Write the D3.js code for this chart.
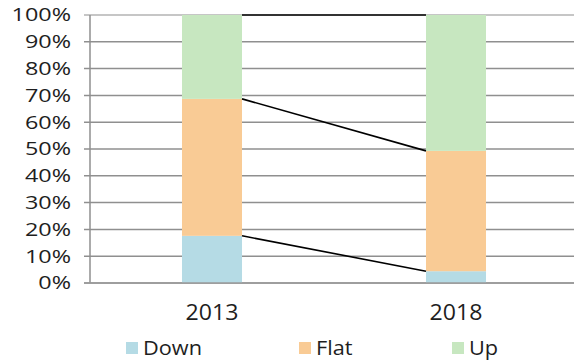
<!DOCTYPE html>
<html>
<head>
<meta charset="utf-8">
<script src="https://cdn.jsdelivr.net/npm/d3@7"></script>
<style>
  html, body { margin: 0; padding: 0; background: #fff; }
  svg { display: block; }
  text { font-family: "Open Sans", "Noto Sans", sans-serif; fill: #1e1e1e; }
</style>
</head>
<body>
<svg id="chart" width="574" height="360"></svg>
<script>
// Share of responses per year, stacked to 100%
const years = ["2013", "2018"];
const seriesNames = ["Down", "Flat", "Up"];
const down = [17.6, 4.4];
const flat = [51.1, 44.9];
const up = [31.3, 50.7];
const yTicks = [0, 10, 20, 30, 40, 50, 60, 70, 80, 90, 100];
const colors = ["#b5dbe5", "#f9cb95", "#c7e7c0"];

const rows = years.map((y, i) => ({ year: y, Down: down[i], Flat: flat[i], Up: up[i] }));
const stacked = d3.stack().keys(seriesNames)(rows);

const svg = d3.select("#chart");
const plotLeft = 90, plotRight = 578, plotTop = 15, plotBottom = 283;

const x = d3.scaleBand().domain(years).range([plotLeft, plotRight])
  .paddingInner(0.754).paddingOuter(0.377);
const y = d3.scaleLinear().domain([0, 100]).range([plotBottom, plotTop]);

// gridlines
svg.append("g").selectAll("line").data(yTicks).join("line")
  .attr("x1", plotLeft - 6).attr("x2", 574)
  .attr("y1", d => y(d)).attr("y2", d => y(d))
  .attr("stroke", d => d === 100 ? "#b3b3b3" : "#8f8f8f")
  .attr("stroke-width", 1.5);

// y axis line
svg.append("line")
  .attr("x1", plotLeft).attr("x2", plotLeft).attr("y1", plotTop).attr("y2", plotBottom)
  .attr("stroke", "#8f8f8f").attr("stroke-width", 1.5);

// y tick labels (wide set)
svg.append("g").selectAll("text").data(yTicks).join("text")
  .attr("transform", d => `translate(71,${y(d)}) scale(1.3,1)`)
  .attr("dy", "0.36em")
  .attr("text-anchor", "end")
  .attr("font-size", 18)
  .text(d => d + "%");

// stacked bars
svg.append("g").selectAll("g").data(stacked).join("g")
  .attr("fill", (d, i) => colors[i])
  .selectAll("rect").data(d => d).join("rect")
  .attr("x", d => x(d.data.year))
  .attr("width", x.bandwidth())
  .attr("y", d => y(d[1]))
  .attr("height", d => y(d[0]) - y(d[1]));

// bottom axis line
svg.append("line")
  .attr("x1", plotLeft - 6).attr("x2", 574).attr("y1", plotBottom).attr("y2", plotBottom)
  .attr("stroke", "#9a9a9a").attr("stroke-width", 1.5);

// series lines joining the tops of each segment
svg.append("g").selectAll("line").data(stacked).join("line")
  .attr("x1", x(years[0]) + x.bandwidth())
  .attr("x2", x(years[1]))
  .attr("y1", d => y(d[0][1]))
  .attr("y2", d => y(d[1][1]))
  .attr("stroke", "#000").attr("stroke-width", 1.6);

// x labels
svg.append("g").selectAll("text").data(years).join("text")
  .attr("transform", d => `translate(${x(d) + x.bandwidth() / 2},320) scale(1.1,1)`)
  .attr("text-anchor", "middle")
  .attr("font-size", 21)
  .text(d => d);

// legend
const legendX = [126, 299, 452];
const lg = svg.append("g").selectAll("g").data(seriesNames).join("g")
  .attr("transform", (d, i) => `translate(${legendX[i]},0)`);
lg.append("rect").attr("x", 0).attr("y", 342).attr("width", 12).attr("height", 12)
  .attr("fill", (d, i) => colors[i]);
lg.append("text")
  .attr("transform", "translate(17,355) scale(1.06,1)")
  .attr("font-size", 20.5)
  .text(d => d);
</script>
</body>
</html>
